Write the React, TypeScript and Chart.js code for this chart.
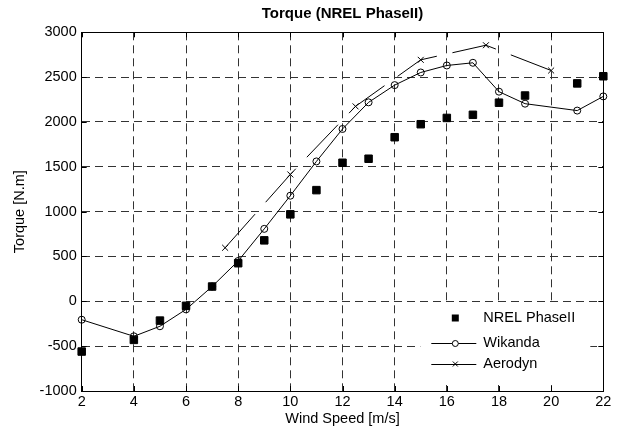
import { useEffect, useRef } from 'react';
import { Chart, registerables } from 'chart.js';

Chart.register(...registerables);

const windNREL = [2, 4, 5, 6, 7, 8, 9, 10, 11, 12, 13, 14, 15, 16, 17, 18, 19, 21, 22];
const torqueNREL = [-560, -430, -215, -50, 165, 425, 680, 970, 1240, 1545, 1590, 1830, 1975, 2045, 2080, 2215, 2295, 2430, 2510];
const windWikanda = [2, 4, 5, 6, 7, 8, 9, 10, 11, 12, 13, 14, 15, 16, 17, 18, 19, 21, 22];
const torqueWikanda = [-205, -390, -278, -90, 165, 450, 808, 1178, 1560, 1922, 2219, 2411, 2552, 2630, 2660, 2338, 2204, 2127, 2285];
const windAerodyn = [7.5, 10, 12.5, 15, 17.5, 20];
const torqueAerodyn = [597, 1415, 2174, 2693, 2856, 2574];
const xTicks = [2, 4, 6, 8, 10, 12, 14, 16, 18, 20, 22];
const yTicks = [-1000, -500, 0, 500, 1000, 1500, 2000, 2500, 3000];
const seriesNames = ['NREL PhaseII', 'Wikanda', 'Aerodyn'];
const chartTitle = 'Torque (NREL PhaseII)';

const FONT = "'Liberation Sans', Arial, sans-serif";
const FS = 14.5;

const boxPlugin = {
  id: 'matlabBox',
  afterDraw(chart: any) {
    const { ctx, chartArea: a } = chart;
    const xs = chart.scales.x;
    const ys = chart.scales.y;
    ctx.save();
    // title centred over the axes
    ctx.fillStyle = '#000';
    ctx.font = `bold 15px ${FONT}`;
    ctx.textAlign = 'center';
    ctx.textBaseline = 'middle';
    ctx.fillText(chartTitle, (a.left + a.right) / 2, 13.5);
    // box top/right
    ctx.strokeStyle = '#000';
    ctx.lineWidth = 1;
    ctx.setLineDash([]);
    ctx.beginPath();
    ctx.moveTo(Math.round(a.left) + 0.5, Math.round(a.top) + 0.5);
    ctx.lineTo(Math.round(a.right) + 0.5, Math.round(a.top) + 0.5);
    ctx.lineTo(Math.round(a.right) + 0.5, Math.round(a.bottom) + 0.5);
    ctx.stroke();
    // inward ticks
    const tl = 5;
    ctx.beginPath();
    for (const v of xTicks) {
      const px = Math.round(xs.getPixelForValue(v)) + 0.5;
      ctx.moveTo(px, a.bottom);
      ctx.lineTo(px, a.bottom - tl);
      ctx.moveTo(px, a.top);
      ctx.lineTo(px, a.top + tl);
    }
    for (const v of yTicks) {
      const py = Math.round(ys.getPixelForValue(v)) + 0.5;
      ctx.moveTo(a.left, py);
      ctx.lineTo(a.left + tl, py);
      ctx.moveTo(a.right, py);
      ctx.lineTo(a.right - tl, py);
    }
    ctx.stroke();

    // legend
    const lx = a.right - 183;
    const ly = a.bottom - 88;
    ctx.fillStyle = '#fff';
    ctx.fillRect(lx, ly, 170, 82);
    const rowY = [ly + 15, ly + 40, ly + 61];
    const lineX0 = lx + 11;
    const lineX1 = lx + 56;
    const mx = lx + 35;
    const tx = lx + 63;
    ctx.strokeStyle = '#000';
    ctx.fillStyle = '#000';
    ctx.lineWidth = 1;
    ctx.fillRect(mx - 3.5, rowY[0] - 3.5, 7, 7);
    ctx.beginPath();
    ctx.moveTo(lineX0, Math.round(rowY[1]) + 0.5);
    ctx.lineTo(lineX1, Math.round(rowY[1]) + 0.5);
    ctx.stroke();
    ctx.fillStyle = '#fff';
    ctx.beginPath();
    ctx.arc(mx, Math.round(rowY[1]) + 0.5, 3, 0, Math.PI * 2);
    ctx.fill();
    ctx.stroke();
    ctx.beginPath();
    ctx.moveTo(lineX0, Math.round(rowY[2]) + 0.5);
    ctx.lineTo(lineX1, Math.round(rowY[2]) + 0.5);
    ctx.moveTo(mx - 2.5, rowY[2] - 2.5);
    ctx.lineTo(mx + 2.5, rowY[2] + 2.5);
    ctx.moveTo(mx - 2.5, rowY[2] + 2.5);
    ctx.lineTo(mx + 2.5, rowY[2] - 2.5);
    ctx.stroke();
    ctx.fillStyle = '#000';
    ctx.font = `${FS}px ${FONT}`;
    ctx.textBaseline = 'middle';
    ctx.textAlign = 'left';
    seriesNames.forEach((n, i) => ctx.fillText(n, tx, rowY[i]));
    ctx.restore();
  },
};

export default function App() {
  const ref = useRef<HTMLCanvasElement>(null);
  useEffect(() => {
    if (!ref.current) return;
    Chart.defaults.font.family = FONT;
    Chart.defaults.color = '#000';
    const chart = new Chart(ref.current, {
      type: 'scatter',
      data: {
        datasets: [
          {
            label: seriesNames[0],
            data: windNREL.map((x, i) => ({ x, y: torqueNREL[i] })),
            showLine: false,
            pointStyle: 'rect',
            pointRadius: 5.3,
            backgroundColor: '#000',
            borderColor: '#000',
            borderWidth: 1,
            clip: false,
          },
          {
            label: seriesNames[1],
            data: windWikanda.map((x, i) => ({ x, y: torqueWikanda[i] })),
            showLine: true,
            pointStyle: 'circle',
            pointRadius: 3.5,
            pointBackgroundColor: 'rgba(0,0,0,0)',
            backgroundColor: 'rgba(0,0,0,0)',
            borderColor: '#000',
            borderWidth: 1,
            clip: false,
          },
          {
            label: seriesNames[2],
            data: windAerodyn.map((x, i) => ({ x, y: torqueAerodyn[i] })),
            showLine: true,
            pointStyle: 'crossRot',
            pointRadius: 4.2,
            backgroundColor: 'rgba(0,0,0,0)',
            borderColor: '#000',
            borderWidth: 1,
            borderDash: [45, 16],
            clip: false,
          },
        ],
      },
      options: {
        animation: false,
        responsive: false,
        layout: { padding: { left: 0, right: 18.7, top: 32.3, bottom: 0 } },
        plugins: {
          legend: { display: false },
          tooltip: { enabled: false },
          title: { display: false },
        },
        scales: {
          x: {
            type: 'linear',
            min: 2,
            max: 22,
            afterBuildTicks: (s: any) => { s.ticks = xTicks.map((v) => ({ value: v })); },
            afterFit: (s: any) => { s.height = 46; },
            ticks: { font: { size: FS }, padding: 2, color: '#000', maxRotation: 0, callback: (v: any) => String(v) },
            grid: { color: '#333', lineWidth: 1, drawTicks: false },
            border: { display: true, color: '#000', width: 1, dash: [8, 5] },
            title: { display: true, text: 'Wind Speed [m/s]', font: { size: FS }, color: '#000', padding: { top: 0, bottom: 9.3 } },
          },
          y: {
            type: 'linear',
            min: -1000,
            max: 3000,
            afterBuildTicks: (s: any) => { s.ticks = yTicks.map((v) => ({ value: v })); },
            afterFit: (s: any) => { s.width = 81.7; },
            ticks: { font: { size: FS }, padding: 5, color: '#000', callback: (v: any) => String(v) },
            grid: { color: '#333', lineWidth: 1, drawTicks: false },
            border: { display: true, color: '#000', width: 1, dash: [8, 5] },
            title: { display: true, text: 'Torque [N.m]', font: { size: FS }, color: '#000', padding: { top: 11.3, bottom: 0 } },
          },
        },
      },
      plugins: [boxPlugin],
    } as any);
    return () => chart.destroy();
  }, []);
  return (
    <div style={{ position: 'fixed', left: 0, top: 0, width: 622, height: 437, background: '#fff' }}>
      <canvas ref={ref} width={622} height={437} style={{ display: 'block' }} />
    </div>
  );
}
